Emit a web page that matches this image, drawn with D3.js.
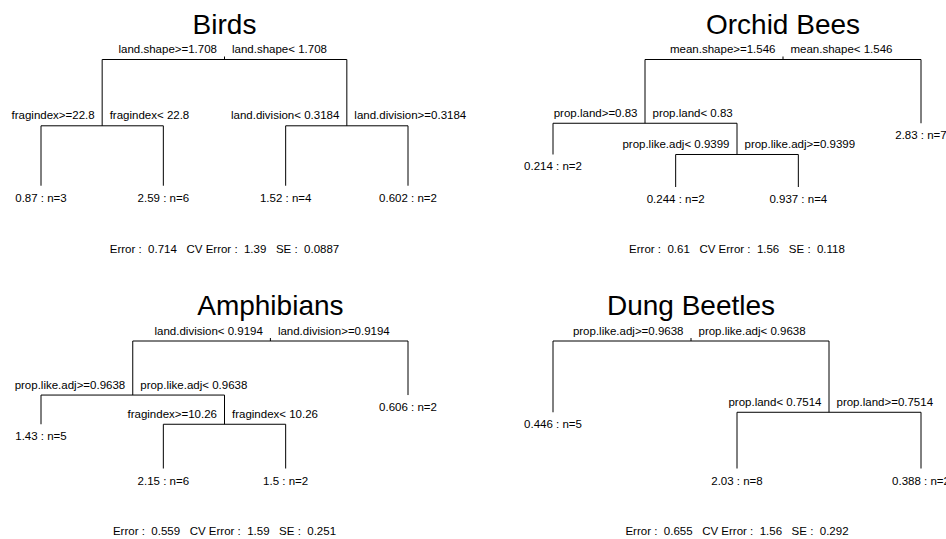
<!DOCTYPE html>
<html>
<head>
<meta charset="utf-8">
<script src="https://cdn.jsdelivr.net/npm/d3@7"></script>
<style>
  body { margin: 0; background: #fff; }
  svg text { font-family: "Liberation Sans", Arial, sans-serif; fill: #000; }
</style>
</head>
<body>
<svg id="chart" width="946" height="539"></svg>
<script>
// regression trees, one per taxon (rpart style)
// splits: [node id, height, left label, right label]
// leaves: [node id, height, mean, n]
// node ids: children of k are 2k and 2k+1, height 1 = root, 0 = lowest leaf
var panelTitles = ["Birds", "Orchid Bees", "Amphibians", "Dung Beetles"];

var birdsSplits = [
    [1, 1, "land.shape>=1.708", "land.shape< 1.708"],
    [2, 0.48, "fragindex>=22.8", "fragindex< 22.8"],
    [3, 0.48, "land.division< 0.3184", "land.division>=0.3184"]
];
var birdsLeaves = [[4, 0.01, 0.87, 3], [5, 0.01, 2.59, 6], [6, 0.01, 1.52, 4], [7, 0.01, 0.602, 2]];
var birdsErrors = [0.714, 1.39, 0.0887];

var beesSplits = [
    [1, 1, "mean.shape>=1.546", "mean.shape< 1.546"],
    [2, 0.5, "prop.land>=0.83", "prop.land< 0.83"],
    [5, 0.255, "prop.like.adj< 0.9399", "prop.like.adj>=0.9399"]
];
var beesLeaves = [[3, 0.5, 2.83, 7], [4, 0.255, 0.214, 2], [10, 0, 0.244, 2], [11, 0, 0.937, 4]];
var beesErrors = [0.61, 1.56, 0.118];

var amphSplits = [
    [1, 1, "land.division< 0.9194", "land.division>=0.9194"],
    [2, 0.576, "prop.like.adj>=0.9638", "prop.like.adj< 0.9638"],
    [5, 0.347, "fragindex>=10.26", "fragindex< 10.26"]
];
var amphLeaves = [[3, 0.576, 0.606, 2], [4, 0.347, 1.43, 5], [10, 0, 2.15, 6], [11, 0, 1.5, 2]];
var amphErrors = [0.559, 1.59, 0.251];

var dungSplits = [
    [1, 1, "prop.like.adj>=0.9638", "prop.like.adj< 0.9638"],
    [3, 0.441, "prop.land< 0.7514", "prop.land>=0.7514"]
];
var dungLeaves = [[2, 0.441, 0.446, 5], [6, 0, 2.03, 8], [7, 0, 0.388, 2]];
var dungErrors = [0.655, 1.56, 0.292];

var allSplits = [birdsSplits, beesSplits, amphSplits, dungSplits];
var allLeaves = [birdsLeaves, beesLeaves, amphLeaves, dungLeaves];
var allErrors = [birdsErrors, beesErrors, amphErrors, dungErrors];

// layout of the four panels
var colRange = [[41, 408], [553, 921]];
var rowOffset = [0, 281.5];
var yTop = 59.5, yBottom = 187;

var svg = d3.select("#chart");

function buildTree(splits, leaves) {
    var nodes = new Map();
    splits.forEach(function(s) {
        nodes.set(s[0], {id: s[0], h: s[1], left: s[2], right: s[3], leaf: false});
    });
    leaves.forEach(function(l) {
        nodes.set(l[0], {id: l[0], h: l[1], mean: l[2], n: l[3], leaf: true});
    });
    var k = 0;
    function walk(id) {
        var nd = nodes.get(id);
        if (nd.leaf) {
            k += 1;
            nd.pos = k;
        } else {
            nd.l = walk(2 * id);
            nd.r = walk(2 * id + 1);
            nd.pos = (nd.l.pos + nd.r.pos) / 2;
        }
        return nd;
    }
    var root = walk(1);
    return {root: root, nodes: Array.from(nodes.values()), nLeaves: k};
}

for (let p = 0; p < 4; p++) {
    var col = p % 2, row = Math.floor(p / 2);
    var tree = buildTree(allSplits[p], allLeaves[p]);

    var x = d3.scaleLinear().domain([1, tree.nLeaves]).range(colRange[col]);
    var y = d3.scaleLinear().domain([0, 1]).range([yBottom + rowOffset[row], yTop + rowOffset[row]]);

    var g = svg.append("g");
    var splitNodes = tree.nodes.filter(d => !d.leaf);
    var leafNodes = tree.nodes.filter(d => d.leaf);

    // branches
    var path = d3.path();
    splitNodes.forEach(function(d) {
        var yy = y(d.h);
        path.moveTo(x(d.l.pos), y(d.l.h));
        path.lineTo(x(d.l.pos), yy);
        path.lineTo(x(d.r.pos), yy);
        path.lineTo(x(d.r.pos), y(d.r.h));
    });
    // little stub above the root
    path.moveTo(x(tree.root.pos), y(1) - 3);
    path.lineTo(x(tree.root.pos), y(1));

    g.append("path")
        .attr("d", path.toString())
        .attr("fill", "none")
        .attr("stroke", "#000")
        .attr("stroke-width", 1);

    // split labels
    g.selectAll("text.left-lab")
        .data(splitNodes)
        .join("text")
        .attr("class", "left-lab")
        .attr("x", d => x(d.pos) - 7.5)
        .attr("y", d => y(d.h) - 6.5)
        .attr("text-anchor", "end")
        .attr("font-size", "11.5px")
        .text(d => d.left);
    g.selectAll("text.right-lab")
        .data(splitNodes)
        .join("text")
        .attr("class", "right-lab")
        .attr("x", d => x(d.pos) + 7.5)
        .attr("y", d => y(d.h) - 6.5)
        .attr("text-anchor", "start")
        .attr("font-size", "11.5px")
        .text(d => d.right);

    // leaf labels
    g.selectAll("text.leaf-lab")
        .data(leafNodes)
        .join("text")
        .attr("class", "leaf-lab")
        .attr("x", d => x(d.pos))
        .attr("y", d => y(d.h) + 16)
        .attr("text-anchor", "middle")
        .attr("font-size", "11.5px")
        .text(d => d.mean + " : n=" + d.n);

    // title over the root
    g.append("text")
        .attr("x", x(tree.root.pos))
        .attr("y", 33.5 + rowOffset[row])
        .attr("text-anchor", "middle")
        .attr("font-size", "28px")
        .text(panelTitles[p]);

    // error line
    var err = allErrors[p];
    g.append("text")
        .attr("x", (colRange[col][0] + colRange[col][1]) / 2)
        .attr("y", 253 + rowOffset[row])
        .attr("text-anchor", "middle")
        .attr("font-size", "11.5px")
        .style("white-space", "pre")
        .text("Error :  " + err[0] + "   CV Error :  " + err[1] + "   SE :  " + err[2]);
}
</script>
</body>
</html>
